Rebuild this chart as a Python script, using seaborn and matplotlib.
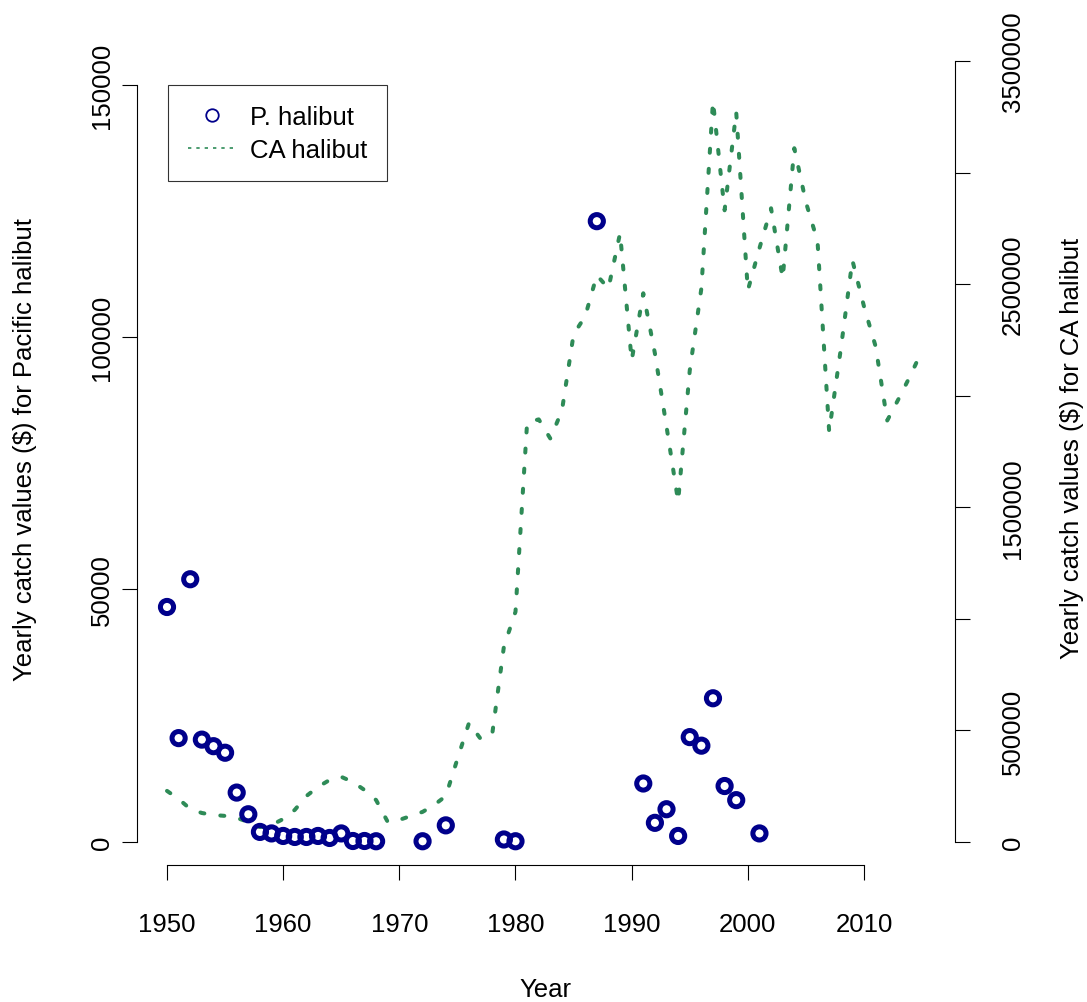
import numpy as np
import pandas as pd
import matplotlib
matplotlib.use("Agg")
import matplotlib.pyplot as plt
from matplotlib.lines import Line2D
import seaborn as sns

# ==========================================
# DATA
# ==========================================

pac_years = [1950, 1951, 1952, 1953, 1954, 1955, 1956, 1957, 1958, 1959,
             1960, 1961, 1962, 1963, 1964, 1965, 1966, 1967, 1968, 1972,
             1974, 1979, 1980, 1987, 1991, 1992, 1993, 1994, 1995, 1996,
             1997, 1998, 1999, 2001]
pac_values = [46500, 20500, 52000, 20200, 18900, 17600, 9700, 5400, 1900, 1600,
              1100, 900, 900, 1100, 700, 1600, 100, 100, 50, 50,
              3200, 400, 50, 123000, 11500, 3700, 6400, 1100, 20700, 19000,
              28400, 11000, 8200, 1600]

ca_years = list(range(1950, 2016))
ca_values = [229000, 193000, 148000, 130000, 121000, 117000, 108000, 90000, 67000, 76000,
             103000, 144000, 206000, 247000, 278000, 292000, 269000, 233000, 188000, 90000,
             99000, 117000, 135000, 166000, 206000, 372000, 534000, 462000, 485000, 875000,
             1032000, 1880000, 1894000, 1808000, 1934000, 2275000, 2356000, 2540000, 2481000, 2728000,
             2158000, 2459000, 2190000, 1862000, 1526000, 2113000, 2481000, 3320000, 2831000, 3271000,
             2472000, 2661000, 2840000, 2526000, 3109000, 2867000, 2692000, 1840000, 2208000, 2607000,
             2400000, 2221000, 1889000, 1988000, 2091000, 2203000]

x_ticks = [1950, 1960, 1970, 1980, 1990, 2000, 2010]
left_ticks = [0, 50000, 100000, 150000]
right_ticks = [0, 500000, 1000000, 1500000, 2000000, 2500000, 3000000, 3500000]
right_labels = ["0", "500000", "", "1500000", "", "2500000", "", "3500000"]

pac = pd.DataFrame({"year": pac_years, "value": pac_values})
ca = pd.DataFrame({"year": ca_years, "value": ca_values})

# ==========================================
# STYLE
# ==========================================

sns.set_style("white")
plt.rcParams["font.family"] = ["Liberation Sans", "DejaVu Sans"]
plt.rcParams["text.color"] = "black"
plt.rcParams["axes.labelcolor"] = "black"
plt.rcParams["xtick.color"] = "black"
plt.rcParams["ytick.color"] = "black"
fs = 18.5
plt.rcParams["font.size"] = fs

W, H = 1087, 1003
fig = plt.figure(figsize=(W / 100, H / 100), dpi=100)

# axes box in pixels
L, R, T, B = 137, 955, 62, 866
ax = fig.add_axes([L / W, 1 - B / H, (R - L) / W, (B - T) / H])

# x: 1950 -> 167 px, 2010 -> 864 px
ppy = (864 - 167) / 60
ax.set_xlim(1950 - (167 - L) / ppy, 1950 + (R - 167) / ppy)

# left: 0 -> 842.5 px, 150000 -> 86 px
lpp = 150000 / (842.5 - 86)
ax.set_ylim(-(B - 842.5) * lpp, (842.5 - T) * lpp)

ax2 = ax.twinx()
# right: 0 -> 843 px, 3500000 -> 62 px
rpp = 3500000 / (843 - 62)
ax2.set_ylim(-(B - 843) * rpp, (843 - T) * rpp)

green = "#2E8B57"
navy = "#00008B"

sns.lineplot(data=ca, x="year", y="value", ax=ax2, color=green,
             linewidth=2.9, linestyle=(0, (1, 4)), dash_capstyle="round")

sns.scatterplot(data=pac, x="year", y="value", ax=ax, marker="o", s=90,
                facecolors="none", edgecolors=navy, linewidth=3.6, zorder=5)
ax.set_zorder(ax2.get_zorder() + 1)
ax.patch.set_visible(False)

# ==========================================
# AXES
# ==========================================

for a in (ax, ax2):
    for s in a.spines.values():
        s.set_visible(False)
        s.set_linewidth(0.8)
        s.set_color("black")
    a.set_xlabel("")
    a.set_ylabel("")

ax.spines["left"].set_visible(True)
ax.spines["left"].set_bounds(0, 150000)
ax.spines["bottom"].set_visible(True)
ax.spines["bottom"].set_bounds(1950, 2010)
ax2.spines["right"].set_visible(True)
ax2.spines["right"].set_bounds(0, 3500000)

ax.set_xticks(x_ticks)
ax.set_xticklabels([str(v) for v in x_ticks])
ax.set_yticks(left_ticks)
ax.set_yticklabels([str(v) for v in left_ticks], rotation=90, va="center")
ax2.set_yticks(right_ticks)
ax2.set_yticklabels(right_labels, rotation=90, va="center")

ax.tick_params(axis="x", direction="out", length=10.8, width=0.8, pad=23,
               bottom=True, labelsize=fs)
ax.tick_params(axis="y", direction="out", length=10.8, width=0.8, pad=5.5,
               left=True, labelsize=fs)
ax2.tick_params(axis="y", direction="out", length=10.8, width=0.8, pad=22,
                right=True, labelsize=fs)

fig.text(545 / W, 1 - 990 / H, "Year", ha="center", va="center", fontsize=fs)
fig.text(25 / W, 1 - 450 / H, "Yearly catch values ($) for Pacific halibut",
         rotation=90, ha="center", va="center", fontsize=fs)
fig.text(1072 / W, 1 - 448 / H, "Yearly catch values ($) for CA halibut",
         rotation=90, ha="center", va="center", fontsize=fs)

# ==========================================
# LEGEND
# ==========================================

handles = [
    Line2D([], [], linestyle="none", marker="o", markersize=9,
           markerfacecolor="none", markeredgecolor=navy, markeredgewidth=1.3),
    Line2D([], [], color=green, linewidth=1.2, linestyle=(0, (2, 3))),
]
leg = ax.legend(handles, ["P. halibut", "CA halibut"],
                loc="upper left", bbox_to_anchor=(168 / W, 1 - 86 / H),
                bbox_transform=fig.transFigure, borderaxespad=0,
                frameon=True, fancybox=False, shadow=False,
                fontsize=fs, handlelength=1.9, handletextpad=0.53,
                borderpad=0.76, labelspacing=0.36)
leg.get_frame().set_edgecolor("black")
leg.get_frame().set_linewidth(0.8)

plt.savefig("out.png", dpi=100)
